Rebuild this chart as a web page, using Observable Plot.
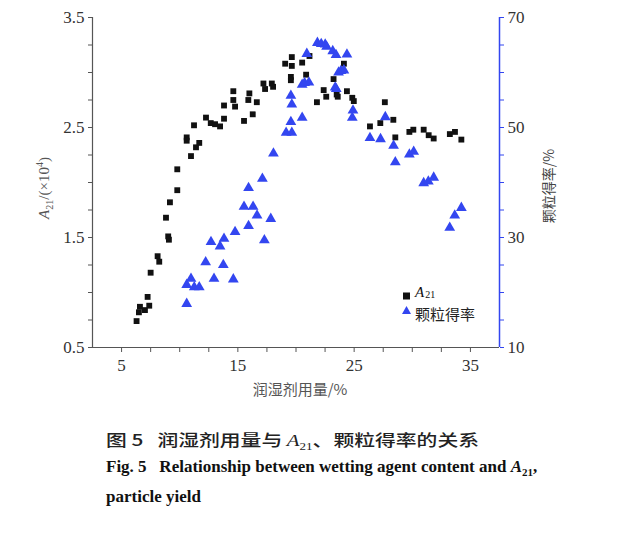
<!DOCTYPE html>
<html>
<head>
<meta charset="utf-8">
<script src="https://cdn.jsdelivr.net/npm/d3@7"></script>
<script src="https://cdn.jsdelivr.net/npm/@observablehq/plot@0.6"></script>
<style>
  body { margin: 0; background: #fff; width: 625px; height: 537px; overflow: hidden; }
  #wrap { position: relative; width: 625px; height: 537px; }
  #wrap svg.plot { position: absolute; left: 0; top: 0; background: transparent; }
  .serif { font-family: "Liberation Serif", "DejaVu Serif", serif; }
  .cjk { font-family: "Noto Sans CJK SC", sans-serif; }
  .abs { position: absolute; white-space: nowrap; }
</style>
</head>
<body>
<div id="wrap"></div>
<script>
// ---- data ----
const a21X = [6.29,6.49,6.58,7.01,7.24,7.38,7.50,8.10,8.24,8.82,
              9.01,9.07,9.16,9.79,9.79,10.60,10.60,10.97,11.23,11.40,
              11.68,12.26,12.67,13.04,13.47,13.81,13.81,14.61,14.61,14.76,
              15.53,15.90,15.99,16.28,16.63,17.20,17.34,17.92,18.03,19.07,
              19.56,19.56,19.64,19.64,20.53,20.87,21.16,21.80,22.38,22.60,
              23.23,23.50,23.59,24.12,24.38,24.84,24.97,26.36,27.25,27.64,
              28.37,28.54,29.75,30.09,30.98,31.41,31.84,33.23,33.67,34.22];
const a21Y = [0.74,0.82,0.87,0.84,0.96,0.88,1.18,1.33,1.28,1.68,
              1.51,1.48,1.82,1.93,2.12,2.41,2.38,2.24,2.52,2.32,
              2.36,2.59,2.54,2.53,2.51,2.58,2.70,2.83,2.75,2.69,
              2.56,2.75,2.81,2.62,2.73,2.90,2.85,2.90,2.87,3.08,
              2.96,2.93,3.14,3.06,3.09,2.98,3.15,2.73,2.84,2.78,
              2.94,2.80,2.78,3.08,2.83,2.77,2.74,2.51,2.54,2.73,
              2.57,2.41,2.46,2.48,2.48,2.43,2.40,2.44,2.46,2.39];
const yieldX = [10.60,10.60,10.97,11.25,11.68,12.23,12.69,12.95,13.47,13.75,
                13.81,14.61,14.76,15.53,15.92,15.92,16.31,16.65,17.11,17.28,
                17.83,18.06,19.15,19.56,19.56,19.64,19.64,20.53,20.53,20.74,
                20.93,21.11,21.84,22.17,22.51,22.63,23.16,23.37,23.44,23.46,
                23.66,23.86,24.12,24.38,24.84,24.90,26.36,27.27,27.68,28.39,
                28.54,29.75,30.12,30.98,31.38,31.84,33.22,33.65,34.22];
const yieldY = [17.95,21.4,22.5,20.96,20.96,25.5,29.2,22.5,28.4,25.0,
                29.8,22.4,31.0,35.6,32.1,39.0,35.6,34.0,40.7,29.5,
                33.4,45.3,49.05,51.0,55.8,49.05,54.2,51.8,57.8,58.1,
                63.4,58.2,65.4,65.2,65.1,64.7,63.9,57.3,63.2,57.0,
                60.0,60.3,60.4,63.3,51.8,53.1,48.1,47.9,51.9,46.7,
                43.7,45.1,45.6,39.9,40.2,40.9,31.8,34.0,35.4];
const xDomain = [2.5, 37.5];
const xTicks = [5, 7.5, 10, 12.5, 15, 17.5, 20, 22.5, 25, 27.5, 30, 32.5, 35];
const xTickLabels = [5, 15, 25, 35];
const leftDomain = [0.5, 3.5];
const leftTicks = [0.5,0.75,1,1.25,1.5,1.75,2,2.25,2.5,2.75,3,3.25,3.5];
const leftTickLabels = [0.5, 1.5, 2.5, 3.5];
const rightDomain = [10, 70];
const rightTicks = [10,15,20,25,30,35,40,45,50,55,60,65,70];
const rightTickLabels = [10, 30, 50, 70];

const a21 = a21X.map((x, i) => ({x, y: a21Y[i]}));
const yld = yieldX.map((x, i) => ({x, y: yieldY[i]}));

const BLUE = "#3346f0";
const dims = {width: 625, height: 400, marginLeft: 92, marginRight: 126, marginTop: 17, marginBottom: 53};
const fontStyle = {fontFamily: "'Liberation Serif', serif", fontSize: "17px", color: "#333", background: "transparent", overflow: "visible"};

const chartLeft = Plot.plot({
  ...dims,
  style: fontStyle,
  x: {domain: xDomain},
  y: {domain: leftDomain},
  marks: [
    Plot.ruleX([xDomain[0]], {stroke: "#555", strokeWidth: 1.2}),
    Plot.ruleY([leftDomain[0]], {stroke: "#555", strokeWidth: 1.2}),
    Plot.axisY({ticks: leftTicks, tickSize: 4, tickPadding: 4, stroke: "#555",
      tickFormat: d => leftTickLabels.includes(d) ? d.toFixed(1) : "", label: null, fill: "#333"}),
    Plot.axisX({ticks: xTicks, tickSize: 5, tickPadding: 6, stroke: "#555",
      tickFormat: d => xTickLabels.includes(d) ? String(d) : "", label: null, fill: "#333"}),
    Plot.dot(a21, {x: "x", y: "y", symbol: "square", r: 3.3, fill: "#111", stroke: "none"})
  ]
});
chartLeft.classList.add("plot");

const chartRight = Plot.plot({
  ...dims,
  style: fontStyle,
  x: {domain: xDomain, axis: null},
  y: {domain: rightDomain},
  marks: [
    Plot.ruleX([xDomain[1]], {stroke: BLUE, strokeWidth: 1.5}),
    Plot.axisY({anchor: "right", ticks: rightTicks, tickSize: 4, tickPadding: 4, stroke: BLUE,
      tickFormat: d => rightTickLabels.includes(d) ? String(d) : "", label: null, fill: "#333"}),
    Plot.dot(yld, {x: "x", y: "y", symbol: "triangle", r: 4.0, fill: BLUE, stroke: "none"})
  ]
});
chartRight.classList.add("plot");

const wrap = document.getElementById("wrap");
wrap.appendChild(chartLeft);
wrap.appendChild(chartRight);

// axis titles, legend, caption (HTML text)
const extra = document.createElement("div");
extra.innerHTML = `
  <div class="abs serif" style="left:44px;top:188px;transform:translate(-50%,-50%) rotate(-90deg);font-size:15px;color:#555;">
    <i>A</i><sub style="font-size:10px">21</sub>/(×10<sup style="font-size:10px">4</sup>)</div>
  <div class="abs cjk" style="left:548px;top:186px;transform:translate(-50%,-50%) rotate(-90deg);font-size:14px;color:#444;">颗粒得率/%</div>
  <div class="abs cjk" style="left:300px;top:388px;transform:translate(-50%,-50%);font-size:15px;color:#555;">润湿剂用量/%</div>
  <svg class="abs" style="left:402px;top:291px;" width="10" height="10"><rect x="1" y="1.5" width="7" height="7" fill="#111"/></svg>
  <svg class="abs" style="left:402px;top:305px;" width="10" height="10"><polygon points="4.5,1 9,9 0,9" fill="${BLUE}"/></svg>
  <div class="abs serif" style="left:415px;top:293px;transform:translateY(-50%);font-size:15px;line-height:15px;color:#111;"><i>A</i><span style="font-size:10px;position:relative;top:1px;margin-left:1px;">21</span></div>
  <div class="abs cjk" style="left:415px;top:313px;transform:translateY(-50%);font-size:15px;line-height:15px;color:#222;">颗粒得率</div>
  <div class="abs cjk" style="left:106px;top:427px;font-size:16px;color:#222;font-weight:500;transform:scaleX(1.3);transform-origin:left center;">图 5&nbsp;&nbsp;&nbsp;润湿剂用量与 <span class="serif"><i>A</i><sub style="font-size:10px">21</sub></span>、颗粒得率的关系</div>
  <div class="abs serif" style="left:106px;top:457px;font-size:17px;color:#111;font-weight:bold;">Fig. 5&nbsp;&nbsp;&nbsp;Relationship between wetting agent content and <i>A</i><sub style="font-size:11px">21</sub>,</div>
  <div class="abs serif" style="left:106px;top:487px;font-size:17px;color:#111;font-weight:bold;">particle yield</div>
`;
wrap.appendChild(extra);
</script>
</body>
</html>
